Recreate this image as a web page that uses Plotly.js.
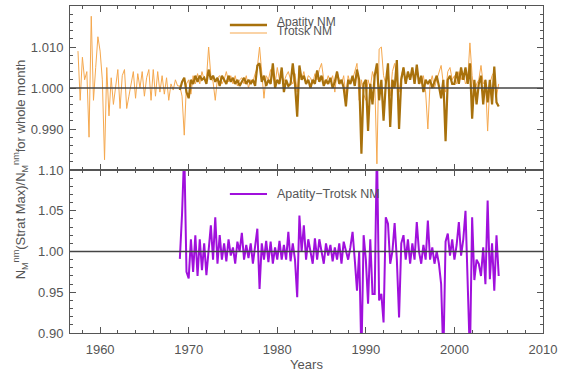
<!DOCTYPE html>
<html>
<head>
<meta charset="utf-8">
<script src="https://cdn.plot.ly/plotly-3.0.1.min.js"></script>
<style>html,body{margin:0;padding:0;background:#fff}#chart{width:562px;height:373px}</style>
</head>
<body>
<div id="chart"></div>
<script>
// Quarterly samples; series start year and sampling step
const trotskStart = 1957.5;
const apatityStart = 1969.0;
const stepYears = 0.25;

const trotskValues = [
  1.009, 0.997,
  1.0075, 1.002, 1.004, 0.988,
  1.0175, 0.997, 1.005, 1.0125,
  1.009, 1.002, 0.9825, 1.005,
  0.9932, 1.0025, 0.996, 1.001,
  1.0045, 0.995, 1.003, 1.0045,
  0.995, 0.998, 1.0015, 1.004,
  0.9975, 1.0035, 1.000, 1.004,
  0.998, 1.0025, 1.0045, 0.997,
  1.0045, 0.998, 1.004, 0.999,
  1.003, 0.9985, 1.0025, 0.997,
  1.001, 0.9995, 1.002, 1.0005,
  1.0005, 0.998, 0.9885, 1.001,
  1.002, 0.9985, 1.003, 1.001,
  1.0035, 1.001, 1.004, 1.002,
  1.002, 1.010, 1.003, 1.0015,
  0.997, 1.0025, 1.003, 1.001,
  1.002, 1.004, 1.0015, 1.003,
  1.001, 1.003, 1.0005, 1.002,
  1.0025, 1.001, 1.003, 1.000,
  1.002, 1.0015, 1.0035, 1.005,
  1.010, 1.004, 0.9975, 1.003,
  1.002, 1.0045, 1.003, 1.001,
  1.005, 1.002, 1.003, 1.0015,
  1.003, 1.004, 1.002, 1.001,
  1.0035, 0.999, 1.005, 1.002,
  1.004, 1.001, 1.003, 1.0025,
  1.001, 1.0035, 1.002, 1.0045,
  1.006, 1.002, 1.001, 1.003,
  1.0015, 1.003, 0.999, 1.004,
  1.002, 1.001, 1.003, 0.998,
  1.003, 1.001, 1.002, 1.004,
  1.006, 0.997, 1.002, 0.9985,
  0.997, 1.002, 1.000, 1.004,
  1.002, 0.9815, 1.0095, 1.010,
  1.003, 1.001, 1.005, 0.998,
  1.004, 1.006, 1.002, 0.999,
  1.003, 1.005, 1.001, 1.004,
  1.002, 1.004, 1.001, 1.005,
  1.002, 1.001, 1.003, 0.999,
  0.990, 1.001, 1.003, 1.000,
  1.002, 1.004, 1.0055, 1.001,
  0.999, 1.004, 1.005, 1.002,
  1.003, 1.001, 1.004, 1.002,
  1.0035, 1.001, 1.002, 1.011,
  1.003, 0.998, 1.001, 1.002,
  1.0055, 1.001, 1.002, 0.9895,
  1.001, 1.003, 1.004, 0.998,
  1.001
];

const apatityValues = [
  0.9995, 1.0015, 1.0025, 0.999,
  0.9975, 1.002, 1.001, 1.003,
  1.0015, 1.003, 1.002, 1.0025,
  1.001, 1.0045, 1.002, 1.003,
  1.0015, 1.0025, 1.0005, 1.003,
  1.002, 1.001, 1.003, 1.0015,
  1.0025, 1.001, 1.002, 1.0005,
  1.0015, 1.0025, 1.001, 1.002,
  1.001, 1.002, 1.0005, 1.0055,
  1.006, 1.0015, 1.003, 1.0005,
  1.002, 1.001, 1.006, 1.000,
  1.002, 1.001, 1.005, 0.999,
  1.002, 1.0005, 1.001, 1.006,
  1.001, 0.993, 1.0055, 1.002,
  1.003, 1.001, 1.002, 1.000,
  1.002, 1.001, 1.0043, 1.0015,
  1.003, 1.0005, 1.002, 1.001,
  1.0025, 1.000, 1.0015, 1.004,
  1.001, 1.002, 1.000, 0.9955,
  1.002, 1.001, 1.003, 1.0005,
  1.0045, 1.002, 0.984, 1.001,
  1.002, 0.9895, 1.001, 0.996,
  1.003, 1.006, 0.997, 1.002,
  0.992, 1.001, 1.006, 0.9905,
  1.002, 1.000, 1.0068, 0.990,
  1.002, 1.005, 1.001, 1.004,
  1.002, 1.005, 1.001, 1.0057,
  1.001, 1.003, 0.999, 1.002,
  1.001, 1.002, 1.000, 1.0015,
  1.003, 1.0005, 0.9975, 1.002,
  0.987, 1.002, 1.003, 1.001,
  1.001, 1.004, 1.001, 1.005,
  1.002, 1.005, 1.001, 1.006,
  0.9925, 1.002, 0.996, 1.001,
  1.003, 0.996, 1.002, 0.9965,
  1.002, 0.996, 1.0052, 0.9965,
  0.9955
];

const diffValues = [
  0.991, 1.046, 1.125, 0.975,
  0.967, 1.015, 0.975, 1.020,
  0.970, 1.015, 0.977, 1.010,
  0.971, 1.000, 1.032, 0.990,
  1.042, 0.985, 1.020, 0.990,
  1.010, 0.988, 1.015, 0.995,
  1.005, 0.985, 1.012, 1.000,
  1.023, 0.990, 1.008, 0.992,
  1.010, 0.985, 1.005, 1.028,
  0.954, 1.010, 0.990, 1.013,
  0.987, 1.012, 0.985, 1.005,
  0.990, 1.013, 0.990, 1.008,
  0.990, 1.024, 0.988, 1.010,
  0.990, 0.944, 1.044, 1.000,
  1.032, 0.990, 1.015, 1.000,
  0.985, 1.016, 0.990, 1.015,
  1.000, 0.985, 1.010, 0.995,
  1.008, 0.988, 1.005, 0.990,
  1.010, 0.985, 1.012, 1.000,
  0.990, 1.005, 1.024, 0.990,
  0.952, 1.000, 0.870, 1.020,
  0.990, 0.936, 1.015, 0.948,
  0.948, 1.130, 0.940, 0.948,
  0.913, 1.042, 1.034, 0.985,
  1.000, 1.035, 0.990, 0.919,
  1.010, 1.020, 0.990, 1.015,
  0.985, 1.010, 0.990, 1.036,
  1.000, 0.985, 1.008, 0.990,
  1.038, 0.990, 1.005, 0.985,
  1.000, 0.985, 0.960, 0.870,
  1.012, 1.022, 0.995, 1.015,
  0.990, 1.008, 1.036, 0.995,
  1.015, 1.050, 0.948, 0.870,
  1.042, 0.965, 0.990, 0.985,
  0.970, 1.005, 0.960, 1.0625,
  0.966, 1.010, 0.952, 1.020,
  0.970
];

const topTickVals = [0.990, 1.000, 1.010];
const topTickText = ['0.990', '1.000', '1.010'];
const botTickVals = [0.90, 0.95, 1.00, 1.05, 1.10];
const botTickText = ['0.90', '0.95', '1.00', '1.05', '1.10'];
const xTickVals = [1960, 1970, 1980, 1990, 2000, 2010];

function years(start, n) {
  const out = [];
  for (let i = 0; i < n; i++) out.push(start + i * stepYears);
  return out;
}

const cApatity = '#a8710c';
const cTrotsk = '#f5a84e';
const cDiff = '#a010dc';
const cAxis = '#555555';
const fontFam = '"Liberation Sans", Arial, sans-serif';

const traces = [
  {x: years(trotskStart, trotskValues.length), y: trotskValues, xaxis: 'x2', yaxis: 'y2',
   type: 'scatter', mode: 'lines', line: {color: cTrotsk, width: 1}, name: 'Trotsk NM'},
  {x: years(apatityStart, apatityValues.length), y: apatityValues, xaxis: 'x2', yaxis: 'y2',
   type: 'scatter', mode: 'lines', line: {color: cApatity, width: 2.2}, name: 'Apatity NM'},
  {x: years(apatityStart, diffValues.length), y: diffValues, xaxis: 'x', yaxis: 'y',
   type: 'scatter', mode: 'lines', line: {color: cDiff, width: 2}, name: 'Apatity−Trotsk NM'}
];

const axisCommon = {
  showline: true, linecolor: cAxis, linewidth: 1, mirror: 'allticks',
  ticks: 'inside', ticklen: 6, tickcolor: cAxis, tickwidth: 1,
  showgrid: false, zeroline: false,
  tickfont: {family: fontFam, size: 13, color: cAxis}
};

const split = 163 / 327;

const layout = {
  width: 562, height: 373,
  margin: {l: 70, r: 19, t: 6, b: 40},
  paper_bgcolor: '#ffffff', plot_bgcolor: '#ffffff',
  showlegend: false,
  xaxis: Object.assign({}, axisCommon, {
    anchor: 'y', range: [1956.6, 2010], tickvals: xTickVals, ticklabelstandoff: 4,
    minor: {ticks: 'inside', ticklen: 3, dtick: 2, tickcolor: cAxis, showgrid: false},
    title: {text: 'Years', font: {family: fontFam, size: 13, color: cAxis}, standoff: 4}
  }),
  xaxis2: Object.assign({}, axisCommon, {
    anchor: 'y2', matches: 'x', range: [1956.6, 2010], tickvals: xTickVals, showticklabels: false,
    minor: {ticks: 'inside', ticklen: 3, dtick: 2, tickcolor: cAxis, showgrid: false}
  }),
  yaxis: Object.assign({}, axisCommon, {
    domain: [0, split], anchor: 'x', range: [0.9, 1.1],
    tickvals: botTickVals, ticktext: botTickText, ticklabelstandoff: 3,
    minor: {ticks: 'inside', ticklen: 3, dtick: 0.01, tickcolor: cAxis, showgrid: false}
  }),
  yaxis2: Object.assign({}, axisCommon, {
    domain: [split, 1], anchor: 'x2', range: [0.98, 1.02],
    tickvals: topTickVals, ticktext: topTickText, ticklabelstandoff: 3,
    minor: {ticks: 'inside', ticklen: 3, dtick: 0.002, tickcolor: cAxis, showgrid: false}
  }),
  shapes: [
    {type: 'line', xref: 'x2 domain', yref: 'y2', x0: 0, x1: 1, y0: 1, y1: 1,
     line: {color: '#444', width: 1.5}, layer: 'above'},
    {type: 'line', xref: 'x domain', yref: 'y', x0: 0, x1: 1, y0: 1, y1: 1,
     line: {color: '#444', width: 1.5}, layer: 'above'},
    {type: 'line', xref: 'paper', yref: 'paper', x0: 0.338, x1: 0.4165, y0: 0.9419, y1: 0.9419,
     line: {color: cApatity, width: 2.5}},
    {type: 'line', xref: 'paper', yref: 'paper', x0: 0.338, x1: 0.4165, y0: 0.9174, y1: 0.9174,
     line: {color: cTrotsk, width: 1.2}},
    {type: 'line', xref: 'paper', yref: 'paper', x0: 0.338, x1: 0.4165, y0: 0.4251, y1: 0.4251,
     line: {color: cDiff, width: 2}}
  ],
  annotations: [
    {xref: 'paper', yref: 'paper', x: 0.4334, y: 0.951, xanchor: 'left', yanchor: 'middle',
     text: 'Apatity NM', showarrow: false, font: {family: fontFam, size: 12, color: cAxis}},
    {xref: 'paper', yref: 'paper', x: 0.4334, y: 0.9235, xanchor: 'left', yanchor: 'middle',
     text: 'Trotsk NM', showarrow: false, font: {family: fontFam, size: 12, color: cAxis}},
    {xref: 'paper', yref: 'paper', x: 0.4334, y: 0.4251, xanchor: 'left', yanchor: 'middle',
     text: 'Apatity−Trotsk NM', showarrow: false, font: {family: fontFam, size: 12.5, color: cAxis}},
    {xref: 'paper', yref: 'paper', x: -0.106, y: 0.5, xanchor: 'center', yanchor: 'middle',
     textangle: -90, showarrow: false,
     text: 'N<sub>M</sub><sup>nm</sup>(Strat Max)/N<sub>M</sub><sup>nm</sup>for whole month',
     font: {family: fontFam, size: 13, color: cAxis}}
  ]
};

Plotly.newPlot('chart', traces, layout, {staticPlot: true, displayModeBar: false});
</script>
</body>
</html>
